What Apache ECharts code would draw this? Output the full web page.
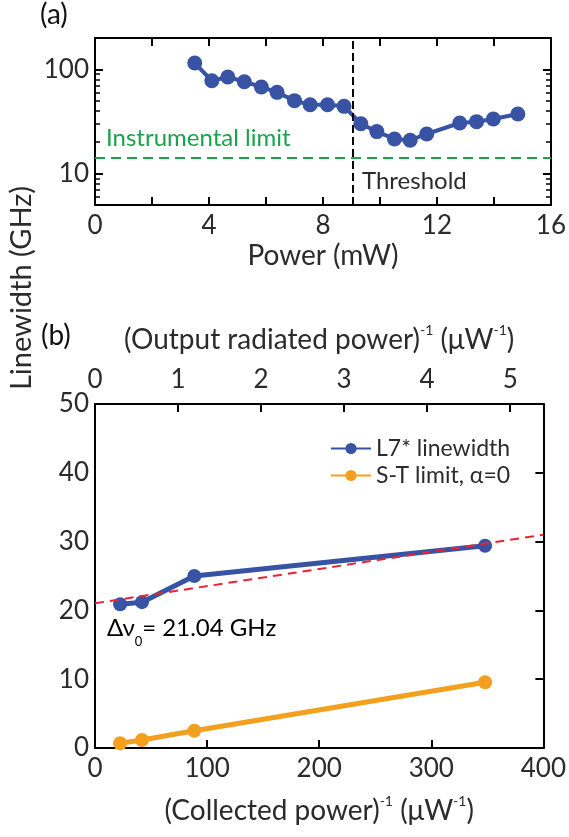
<!DOCTYPE html>
<html>
<head>
<meta charset="utf-8">
<script src="https://cdn.jsdelivr.net/npm/echarts@6/dist/echarts.min.js"></script>
<style>
  html, body { margin: 0; padding: 0; background: #fff; }
  #chart { width: 569px; height: 837px; }
</style>
</head>
<body>
<div id="chart"></div>
<script>
// panel (a): linewidth vs pump power
var powerMW = [3.50, 4.10, 4.66, 5.24, 5.84, 6.39, 7.00, 7.55, 8.16, 8.74, 9.33, 9.89, 10.51, 11.06, 11.64, 12.80, 13.39, 13.98, 14.84];
var linewidthA = [115, 77.8, 84.5, 76.2, 67.8, 60.2, 50.1, 45.8, 45.8, 44.2, 30.1, 25.3, 21.5, 20.9, 24.0, 30.6, 31.5, 33.4, 37.3];
var instrumentalLimit = 14.1;
var thresholdPower = 9.06;

// panel (b): linewidth vs inverse collected power
var invCollected = [22.4, 41.9, 88.6, 348];
var l7Linewidth = [20.9, 21.2, 25.0, 29.4];
var stLimit = [0.68, 1.16, 2.5, 9.55];
var fitX = [0, 400];
var fitY = [21.04, 31.0];

var BLUE = '#3953a4', ORANGE = '#f3a01f', GREEN = '#1ca24b', RED = '#ec2330';
var TXT = '#2b2b2b';
var FONT = 'Lato';

function pairs(xs, ys) {
  return xs.map(function (x, i) { return [x, ys[i]]; });
}

var axisLine = { show: true, onZero: false, lineStyle: { color: '#000', width: 2 } };
var tickIn = { show: true, inside: true, length: 8, lineStyle: { color: '#000', width: 2 } };
var lbl = { color: TXT, fontFamily: FONT, fontSize: 26 };
var supRich = {
  n: { fontFamily: FONT, fontSize: 28, color: TXT, lineHeight: 34, verticalAlign: 'bottom' },
  s: { fontFamily: FONT, fontSize: 14, color: TXT, lineHeight: 34, verticalAlign: 'top', padding: [3, 0, 0, 0] }
};

var chart = echarts.init(document.getElementById('chart'));

var option = {
  animation: false,
  backgroundColor: '#fff',
  grid: [
    { left: 95, top: 38, width: 460, height: 167 },
    { left: 95, top: 404, width: 460, height: 344 }
  ],
  xAxis: [
    {
      gridIndex: 0, type: 'value', min: 0, max: 16, interval: 2,
      axisLine: axisLine, axisTick: tickIn, splitLine: { show: false },
      axisLabel: Object.assign({}, lbl, {
        margin: 8,
        formatter: function (v) { return v % 4 === 0 ? String(v) : ''; }
      }),
      name: 'Power (mW)', nameLocation: 'middle', nameGap: 37,
      nameTextStyle: { color: TXT, fontFamily: FONT, fontSize: 28 }
    },
    {
      gridIndex: 0, type: 'value', min: 0, max: 16, interval: 2, position: 'top',
      axisLine: axisLine, axisTick: tickIn, splitLine: { show: false },
      axisLabel: { show: false }
    },
    {
      gridIndex: 1, type: 'value', min: 0, max: 400, interval: 100,
      axisLine: axisLine, axisTick: tickIn, splitLine: { show: false },
      axisLabel: Object.assign({}, lbl, { margin: 8 }),
      name: '{n|(Collected power)}{s|-1}{n| (μW}{s|-1}{n|)}',
      nameLocation: 'middle', nameGap: 43,
      nameTextStyle: { rich: supRich }
    },
    {
      gridIndex: 1, type: 'value', min: 0, max: 5.4, interval: 1, position: 'top',
      axisLine: axisLine, axisTick: tickIn, splitLine: { show: false },
      axisLabel: Object.assign({}, lbl, { margin: 11, showMaxLabel: false }),
      name: '{n|(Output radiated power)}{s|-1}{n| (μW}{s|-1}{n|)}',
      nameLocation: 'middle', nameGap: 50,
      nameTextStyle: { rich: supRich }
    }
  ],
  yAxis: [
    {
      gridIndex: 0, type: 'log', logBase: 10, min: 5, max: 200,
      axisLine: axisLine, axisTick: tickIn, splitLine: { show: false },
      minorTick: { show: true, splitNumber: 9, length: 5, lineStyle: { color: '#000', width: 1.5 } },
      axisLabel: Object.assign({}, lbl, { margin: 6, showMinLabel: false, showMaxLabel: false })
    },
    {
      gridIndex: 0, type: 'log', logBase: 10, min: 5, max: 200, position: 'right',
      axisLine: axisLine, axisTick: tickIn, splitLine: { show: false },
      minorTick: { show: true, splitNumber: 9, length: 5, lineStyle: { color: '#000', width: 1.5 } },
      axisLabel: { show: false }
    },
    {
      gridIndex: 1, type: 'value', min: 0, max: 50, interval: 10,
      axisLine: axisLine, axisTick: { show: false }, splitLine: { show: false },
      axisLabel: Object.assign({}, lbl, { margin: 6 })
    },
    {
      gridIndex: 1, type: 'value', min: 0, max: 50, interval: 10, position: 'right',
      axisLine: axisLine, axisTick: tickIn, splitLine: { show: false },
      axisLabel: { show: false }
    }
  ],
  legend: {
    left: 325, top: 432, orient: 'vertical', itemGap: 4,
    itemWidth: 40, itemHeight: 14,
    textStyle: { color: TXT, fontFamily: FONT, fontSize: 23 },
    data: ['L7* linewidth', 'S-T limit, α=0']
  },
  series: [
    {
      name: 'power', type: 'line', xAxisIndex: 0, yAxisIndex: 0,
      data: pairs(powerMW, linewidthA),
      symbol: 'circle', symbolSize: 15, color: BLUE,
      lineStyle: { color: BLUE, width: 4 }, z: 3,
      markLine: {
        silent: true, symbol: 'none', label: { show: false },
        data: [
          { yAxis: instrumentalLimit, lineStyle: { color: GREEN, width: 2, type: [10, 6] } },
          { xAxis: thresholdPower, lineStyle: { color: '#000', width: 2, type: [8, 4] } }
        ]
      }
    },
    {
      name: 'fit', type: 'line', xAxisIndex: 2, yAxisIndex: 2,
      data: pairs(fitX, fitY), symbol: 'none',
      lineStyle: { color: RED, width: 2, type: [9, 6] }, z: 4
    },
    {
      name: 'L7* linewidth', type: 'line', xAxisIndex: 2, yAxisIndex: 2,
      data: pairs(invCollected, l7Linewidth),
      symbol: 'circle', symbolSize: 14, color: BLUE,
      lineStyle: { color: BLUE, width: 5 }, z: 3
    },
    {
      name: 'S-T limit, α=0', type: 'line', xAxisIndex: 2, yAxisIndex: 2,
      data: pairs(invCollected, stLimit),
      symbol: 'circle', symbolSize: 14, color: ORANGE,
      lineStyle: { color: ORANGE, width: 5 }, z: 3
    }
  ],
  graphic: [
    { type: 'text', left: 40, top: 1, style: { text: '(a)', fill: '#111', font: '28px ' + FONT } },
    { type: 'text', left: 41, top: 322, style: { text: '(b)', fill: '#111', font: '28px ' + FONT } },
    {
      type: 'text', x: 22, y: 288, rotation: Math.PI / 2,
      style: { text: 'Linewidth (GHz)', fill: TXT, font: '29px ' + FONT, align: 'center', verticalAlign: 'middle' }
    },
    { type: 'text', left: 106, top: 126, style: { text: 'Instrumental limit', fill: GREEN, font: '24px ' + FONT } },
    { type: 'text', left: 362, top: 169, style: { text: 'Threshold', fill: TXT, font: '24px ' + FONT } },
    {
      type: 'text', left: 107, top: 616,
      style: {
        text: '{n|Δν}{b|0}{n|= 21.04 GHz}',
        rich: {
          n: { fontFamily: FONT, fontSize: 24, color: TXT, lineHeight: 32, verticalAlign: 'top' },
          b: { fontFamily: FONT, fontSize: 13, color: TXT, lineHeight: 32, verticalAlign: 'bottom' }
        }
      }
    }
  ]
};

chart.setOption(option);
</script>
</body>
</html>
